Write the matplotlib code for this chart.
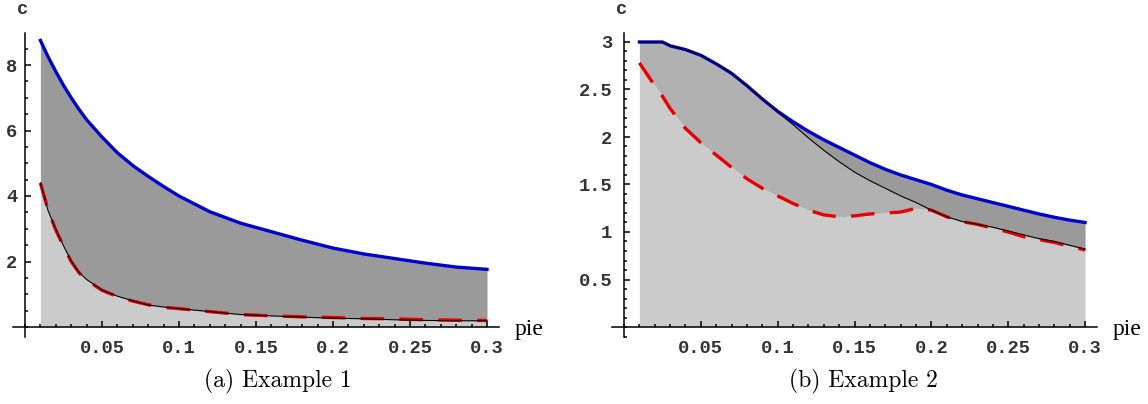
import numpy as np
import matplotlib
matplotlib.use("Agg")
import matplotlib.pyplot as plt
from matplotlib.ticker import FixedLocator, MultipleLocator

plt.rcParams['lines.scale_dashes'] = False

# ---- data: example 1 (left) ----
pie1 = [0.01, 0.015, 0.02, 0.025, 0.03, 0.035, 0.04, 0.05, 0.06, 0.07, 0.08, 0.09,
        0.10, 0.12, 0.14, 0.16, 0.18, 0.20, 0.22, 0.24, 0.26, 0.28, 0.30]
upper1 = [8.75, 8.25, 7.80, 7.38, 7.00, 6.65, 6.33, 5.80, 5.32, 4.93, 4.60, 4.29,
          4.00, 3.52, 3.17, 2.91, 2.65, 2.41, 2.23, 2.09, 1.95, 1.83, 1.76]
lower1 = [4.40, 3.55, 2.98, 2.48, 2.02, 1.67, 1.45, 1.13, 0.94, 0.80, 0.67, 0.61,
          0.56, 0.47, 0.38, 0.34, 0.30, 0.27, 0.25, 0.22, 0.20, 0.19, 0.19]
dashed1 = [4.40, 3.57, 2.96, 2.46, 2.00, 1.66, 1.43, 1.12, 0.93, 0.79, 0.68, 0.60,
           0.56, 0.47, 0.38, 0.34, 0.31, 0.29, 0.26, 0.25, 0.22, 0.21, 0.20]

# ---- data: example 2 (right) ----
pie2 = [0.01, 0.02, 0.025, 0.03, 0.04, 0.05, 0.06, 0.07, 0.08, 0.09, 0.10, 0.11,
        0.12, 0.13, 0.14, 0.15, 0.16, 0.17, 0.18, 0.19, 0.20, 0.21, 0.22, 0.23,
        0.24, 0.25, 0.26, 0.27, 0.28, 0.29, 0.30]
upper2 = [3.00, 3.00, 3.00, 2.96, 2.92, 2.86, 2.77, 2.67, 2.54, 2.40, 2.27, 2.16,
          2.06, 1.97, 1.89, 1.81, 1.73, 1.66, 1.60, 1.55, 1.50, 1.44, 1.39, 1.35,
          1.31, 1.27, 1.23, 1.19, 1.155, 1.125, 1.10]
black2 = [3.00, 3.00, 3.00, 2.96, 2.92, 2.86, 2.77, 2.67, 2.54, 2.40, 2.26, 2.13,
          1.99, 1.86, 1.74, 1.63, 1.54, 1.46, 1.38, 1.31, 1.23, 1.16, 1.11, 1.08,
          1.05, 1.01, 0.97, 0.93, 0.90, 0.86, 0.82]
dashed2 = [2.78, 2.54, 2.43, 2.30, 2.09, 1.94, 1.81, 1.68, 1.56, 1.46, 1.38, 1.30,
           1.23, 1.18, 1.16, 1.17, 1.19, 1.20, 1.21, 1.25, 1.23, 1.16, 1.11, 1.08,
           1.04, 1.00, 0.95, 0.92, 0.89, 0.85, 0.81]

xticks = [0.05, 0.1, 0.15, 0.2, 0.25, 0.3]
xticklabels = ['0.05', '0.1', '0.15', '0.2', '0.25', '0.3']
yticks1 = [2, 4, 6, 8]
yticks2 = [0.5, 1, 1.5, 2, 2.5, 3]
yticklabels2 = ['0.5', '1', '1.5', '2', '2.5', '3']

W, H = 1148, 404
fig = plt.figure(figsize=(W / 100, H / 100), dpi=100)

LIGHT, MID, DARK = '#cbcbcb', '#b1b1b1', '#9a9a9a'
BLUE, RED = '#0000d0', '#e80000'
tick_font = dict(family='Liberation Mono', weight='bold', size=13.5)


def make_axes(x0px, y0px, xscale, yscale, xlim, ylim):
    # place axes so that data origin lands at (x0px, y0px) in figure pixels
    left = x0px + xlim[0] * xscale
    right = x0px + xlim[1] * xscale
    bottom = y0px - ylim[0] * yscale
    top = y0px - ylim[1] * yscale
    ax = fig.add_axes([left / W, (H - bottom) / H, (right - left) / W, (bottom - top) / H])
    ax.set_xlim(*xlim)
    ax.set_ylim(*ylim)
    ax.patch.set_alpha(0)
    for s in ['top', 'right']:
        ax.spines[s].set_visible(False)
    ax.spines['left'].set_position(('data', 0))
    ax.spines['bottom'].set_position(('data', 0))
    for s in ['left', 'bottom']:
        ax.spines[s].set_linewidth(1.1)
    ax.xaxis.set_major_locator(FixedLocator(xticks))
    ax.set_xticklabels(xticklabels, fontdict=tick_font, color='#333333')
    ax.xaxis.set_minor_locator(MultipleLocator(0.01))
    ax.tick_params(which='major', direction='in', length=4, width=1.1)
    ax.tick_params(which='minor', direction='in', length=2.5, width=1.1)
    ax.tick_params(axis='x', which='major', pad=9.5)
    return ax


# ---- left panel ----
ax1 = make_axes(25, 327, 1540, 32.75, (-0.008, 0.308), (-0.3, 8.98))
ax1.fill_between(pie1, 0, lower1, color=LIGHT, lw=0)
ax1.fill_between(pie1, lower1, upper1, color=DARK, lw=0)
ax1.plot(pie1, dashed1, color=RED, lw=2.4, dashes=(17, 11))
ax1.plot(pie1, upper1, color=BLUE, lw=2.4)
ax1.plot(pie1, lower1, color='black', lw=0.8)
ax1.yaxis.set_major_locator(FixedLocator(yticks1))
ax1.set_yticklabels([str(v) for v in yticks1], fontdict=tick_font, color='#333333')
ax1.yaxis.set_minor_locator(MultipleLocator(0.5))
ax1.tick_params(axis='y', which='major', pad=5.5)

# ---- right panel ----
ax2 = make_axes(624, 327, 1537, 95, (-0.008, 0.308), (-0.1, 3.09))
ax2.fill_between(pie2, 0, dashed2, color=LIGHT, lw=0)
ax2.fill_between(pie2, dashed2, black2, color=MID, lw=0)
ax2.fill_between(pie2, black2, upper2, color=DARK, lw=0)
ax2.plot(pie2, dashed2, color=RED, lw=2.4, dashes=(17, 11))
ax2.plot(pie2, upper2, color=BLUE, lw=2.4)
ax2.plot(pie2, black2, color='black', lw=0.8)
ax2.yaxis.set_major_locator(FixedLocator(yticks2))
ax2.set_yticklabels(yticklabels2, fontdict=tick_font, color='#333333')
ax2.yaxis.set_minor_locator(MultipleLocator(0.1))
ax2.tick_params(axis='y', which='major', pad=8.5)

# ---- axis labels ----
for xpx in (23, 622):
    fig.text(xpx / W, 1 - 10 / H, 'c', ha='center', va='center', color='#333333', **tick_font)
for xpx in (515, 1113):
    fig.text(xpx / W, 1 - 329 / H, 'pie', ha='left', va='center',
             family='Liberation Serif', size=17)

# ---- captions ----
fig.text(278 / W, 1 - 381 / H, '(a) Example 1', ha='center', va='center', family='cmr10', size=17)
fig.text(863 / W, 1 - 381 / H, '(b) Example 2', ha='center', va='center', family='cmr10', size=17)

fig.savefig('out.png', dpi=100)
